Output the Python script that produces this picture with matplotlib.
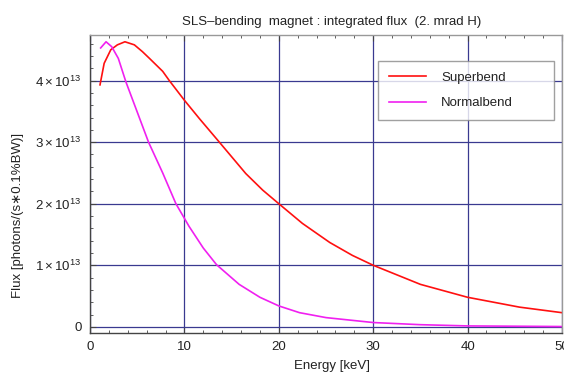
import matplotlib
matplotlib.use("Agg")
import matplotlib.pyplot as plt
from matplotlib.ticker import MultipleLocator, FuncFormatter

# ---- data (flux in units of 1e13 photons/(s*0.1%BW)) ----
super_E = [1.06, 1.5, 2.2, 2.9, 3.7, 4.7, 5.55, 6.3, 7.7, 8.4, 10, 11.6, 13.7, 16.5, 18.3, 20,
           22.5, 25.4, 27.8, 30, 35, 40, 45.5, 50]
super_F = [3.93, 4.28, 4.50, 4.58, 4.63, 4.58, 4.47, 4.36, 4.15, 4.0, 3.68, 3.38, 3.0, 2.49, 2.22, 2.0,
           1.68, 1.37, 1.16, 1.0, 0.69, 0.48, 0.32, 0.23]
normal_E = [1.13, 1.7, 2.3, 3.0, 3.8, 5.0, 6.2, 7.7, 9.1, 10.5, 12.0, 13.4, 15.8, 18, 20,
            22.2, 25, 30, 35, 40, 50]
normal_F = [4.53, 4.63, 4.55, 4.36, 3.98, 3.49, 3.0, 2.5, 2.0, 1.63, 1.28, 1.01, 0.69, 0.48, 0.34,
            0.23, 0.15, 0.07, 0.035, 0.015, 0.005]
series_names = ["Superbend", "Normalbend"]
title = "SLS\u2013bending  magnet : integrated flux  (2. mrad H)"
xlabel = "Energy [keV]"
ylabel = "Flux [photons/(s\u22170.1%BW)]"

plt.rcParams['font.family'] = ['Liberation Sans', 'DejaVu Sans']
plt.rcParams['mathtext.fontset'] = 'custom'
plt.rcParams['mathtext.rm'] = 'Liberation Sans'
plt.rcParams['mathtext.it'] = 'Liberation Sans'

fig = plt.figure(figsize=(5.64, 3.74), dpi=100)
ax = fig.add_axes([90/564, 41/374, 472/564, 298/374])

scale = 1e13
ax.plot(super_E, [v*scale for v in super_F], color='#ff1010', lw=1.2, label=series_names[0])
ax.plot(normal_E, [v*scale for v in normal_F], color='#f020f0', lw=1.2, label=series_names[1])

ax.set_xlim(0, 50)
ax.set_ylim(-0.10e13, 4.74e13)
ax.xaxis.set_major_locator(MultipleLocator(10))
ax.xaxis.set_minor_locator(MultipleLocator(2))
ax.yaxis.set_major_locator(MultipleLocator(1e13))
ax.yaxis.set_minor_locator(MultipleLocator(0.2e13))

def yfmt(v, pos):
    n = int(round(v/1e13))
    if n == 0:
        return "0"
    return r"$%d\times10^{13}$" % n
ax.yaxis.set_major_formatter(FuncFormatter(yfmt))

ax.grid(True, which='major', color='#3a3a90', lw=0.9)
ax.set_axisbelow(True)
ax.tick_params(which='both', direction='in', top=True, right=False, labelsize=9.5,
               colors='#444444', labelcolor='#222222')
ax.tick_params(which='major', length=4, width=0.8, pad=6)
ax.tick_params(which='minor', length=2.5, width=0.6)
for s in ['left', 'bottom']:
    ax.spines[s].set_color('#444444')
    ax.spines[s].set_linewidth(1.0)
for s in ['top', 'right']:
    ax.spines[s].set_color('#999999')
    ax.spines[s].set_linewidth(1.0)

ax_h = 298.0
ax_w = 472.0
leg_x0 = (378 - 90) / ax_w
leg_w = (554 - 378) / ax_w
leg_top = (333 - 61) / ax_h
leg_h = (119 - 61) / ax_h
leg = ax.legend(loc='upper left', bbox_to_anchor=(leg_x0, leg_top - leg_h, leg_w, leg_h),
                mode='expand', frameon=True, fancybox=False, fontsize=9.5, handlelength=2.8,
                handletextpad=1.2, borderpad=0.8, labelspacing=1.0, borderaxespad=0)
leg.get_frame().set_edgecolor('#888888')
leg.get_frame().set_linewidth(1.0)
for t in leg.get_texts():
    t.set_color('#222222')

fig.text(332/564, 1-22/374, title, ha='center', va='center', fontsize=9.5, color='#222222')
fig.text(332/564, 1-366/374, xlabel, ha='center', va='center', fontsize=9.5, color='#222222')
fig.text(18/564, 1-215/374, ylabel, ha='center', va='center', rotation=90, fontsize=9.5,
         color='#222222')

fig.savefig("out.png", dpi=100, facecolor='white')
